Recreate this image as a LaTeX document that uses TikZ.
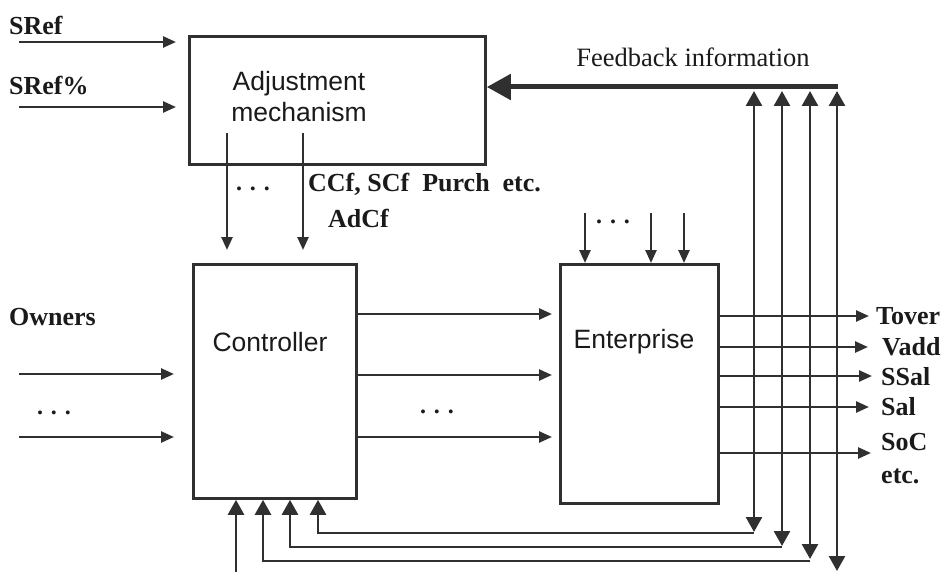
\documentclass[tikz,border=0pt]{standalone}
\usepackage{fontspec}
\setmainfont{Liberation Serif}
\newfontfamily\blocksans{Liberation Sans}
\usetikzlibrary{arrows.meta,calc}
\definecolor{ink}{HTML}{303030}
\definecolor{txt}{HTML}{1A1A1A}
\begin{document}
\begin{tikzpicture}[x=1pt,y=-1pt,
  block/.style={draw=ink, line width=2.8pt, inner sep=0pt, anchor=north west},
  blocktext/.style={font=\blocksans\fontsize{26.5}{31}\selectfont, text=txt, inner sep=0pt, align=center},
  lbl/.style={font=\fontsize{26}{30}\selectfont\bfseries, text=txt, inner sep=0pt, anchor=west},
  plain/.style={font=\fontsize{26.5}{30}\selectfont, text=txt, inner sep=0pt},
  dotlbl/.style={font=\fontsize{24}{28}\selectfont\bfseries, text=txt, inner sep=0pt},
  sig/.style={draw=ink, line width=2.5pt, -{Triangle[length=13pt,width=11pt]}},
  fbline/.style={draw=ink, line width=2.6pt},
  fbtip/.tip={Triangle[length=15pt,width=16pt]},
  bus/.style={draw=ink, line width=5pt, -{Triangle[length=24pt,width=25pt]}}
]
\useasboundingbox (0,0) rectangle (947,572);

% blocks
\node[block, minimum width=296pt, minimum height=128pt] (adj) at (188,35) {};
\node[block, minimum width=163pt, minimum height=234pt] (ctrl) at (192,263) {};
\node[block, minimum width=158pt, minimum height=239pt] (ent) at (559,263) {};

\node[blocktext] (adjtxt) at (299,97) {Adjustment\\mechanism};
\node[blocktext] (ctrltxt) at (270,342) {Controller};
\node[blocktext] (enttxt) at (634,342) {Enterprise};

% reference inputs
\node[lbl] (sref) at (9,25) {SRef};
\node[lbl] (srefp) at (9,86) {SRef\%};
\coordinate (in1) at (19,42);
\coordinate (in2) at (19,107);
\draw[sig, shorten >=12pt] (in1) -- (in1 -| adj.west);
\draw[sig, shorten >=12pt] (in2) -- (in2 -| adj.west);

% owners inputs
\node[lbl] (owners) at (9,317) {Owners};
\node[dotlbl] (odots) at (54,413) {.\,\,.\,\,.};
\coordinate (ow1) at (19,374);
\coordinate (ow2) at (19,437);
\draw[sig, shorten >=18pt] (ow1) -- (ow1 -| ctrl.west);
\draw[sig, shorten >=18pt] (ow2) -- (ow2 -| ctrl.west);

% adjustment -> controller
\coordinate (ad1) at (227,133);
\coordinate (ad2) at (303,133);
\draw[sig, shorten >=13pt] (ad1) -- (ad1 |- ctrl.north);
\draw[sig, shorten >=13pt] (ad2) -- (ad2 |- ctrl.north);
\node[dotlbl] (adots) at (253,189) {.\,\,.\,\,.};
\node[lbl] (ccf) at (308,184) {CCf, SCf\ \ Purch\ \ etc.};
\node[lbl] (adcf) at (328,218) {AdCf};

% controller -> enterprise
\foreach \yy in {314,375,437}
  \draw[sig, shorten >=7pt] (ctrl.east |- 0,\yy) -- (ent.west |- 0,\yy);
\node[dotlbl] (mdots) at (437,412) {.\,\,.\,\,.};

% external inputs to the enterprise
\foreach \xx in {585,651,684}
  \draw[sig] (\xx,213) -- (ent.north -| \xx,0);
\node[dotlbl] (edots) at (613,222) {.\,\,.\,\,.};

% enterprise outputs
\foreach \yy/\xe in {316/869,347/868,376/872,407/869,453/871}
  \draw[sig] (ent.east |- 0,\yy) -- (\xe,\yy);
\node[lbl] (tover) at (876,316) {Tover};
\node[lbl] (vadd) at (882,347) {Vadd};
\node[lbl] (ssal) at (881,377) {SSal};
\node[lbl] (sal) at (881,407) {Sal};
\node[lbl] (soc) at (881,442) {SoC};
\node[lbl] (etc) at (881,476) {etc.};

% feedback bus
\node[plain] (fbtxt) at (693,57) {Feedback information};
\coordinate (busend) at (838,87);
\draw[bus] (busend) -- (busend -| adj.east);

\foreach \xx/\yb in {754/532,782/546,810/559,837/571}
  \draw[fbline, fbtip-fbtip] (\xx,91) -- (\xx,\yb);

% feedback returns to the controller
\draw[fbline, -fbtip] (754,533) -| ($(ctrl.south west)+(126,0)$);
\draw[fbline, -fbtip] (782,547) -| ($(ctrl.south west)+(98,0)$);
\draw[fbline, -fbtip] (810,561) -| ($(ctrl.south west)+(71,0)$);
\draw[fbline, -fbtip] (236,572) -- ($(ctrl.south west)+(44,0)$);
\end{tikzpicture}
\end{document}
